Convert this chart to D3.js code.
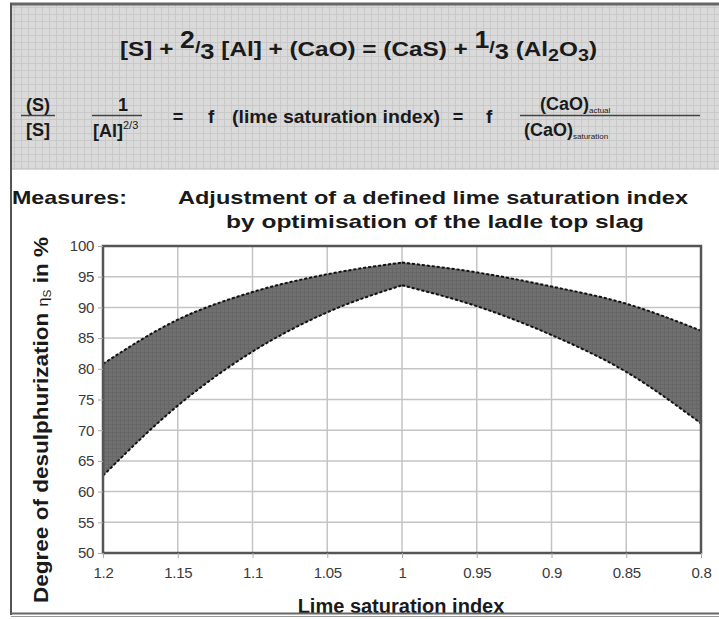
<html>
  <head>
    <script src="https://cdn.jsdelivr.net/npm/d3@7"></script>
    <style>
      body { margin: 0; background: #fff; }
      text { font-family: "Liberation Sans", Arial, sans-serif; }
    </style>
  </head>

  <body>
    <div id="container"></div>
  </body>
  <script>
    // values
    const limeIndex = [1.2, 1.15, 1.1, 1.05, 1, 0.95, 0.9, 0.85, 0.8];
    const upperBound = [80.8, 88.0, 92.5, 95.4, 97.3, 95.7, 93.4, 90.6, 86.2];
    const lowerBound = [62.6, 74.0, 82.8, 89.2, 93.6, 90.2, 85.5, 79.5, 71.1];
    const xTicks = [1.2, 1.15, 1.1, 1.05, 1, 0.95, 0.9, 0.85, 0.8];
    const xTickLabels = ["1.2", "1.15", "1.1", "1.05", "1", "0.95", "0.9", "0.85", "0.8"];
    const yTicks = [50, 55, 60, 65, 70, 75, 80, 85, 90, 95, 100];

    function drawSVG() {
      const W = 719, H = 619;
      const left = 103, right = 701, top = 246, bottom = 553;

      const svg = d3.create("svg").attr("width", W).attr("height", H);

      // header box with grid texture
      const defs = svg.append("defs");
      const pat = defs.append("pattern")
        .attr("id", "grid").attr("width", 7).attr("height", 7)
        .attr("patternUnits", "userSpaceOnUse");
      pat.append("rect").attr("width", 7).attr("height", 7).attr("fill", "#dadada");
      pat.append("path").attr("d", "M0,0.5H7M0.5,0V7")
        .attr("stroke", "#c9c9c9").attr("stroke-width", 1);
      const pat2 = defs.append("pattern")
        .attr("id", "band").attr("width", 4).attr("height", 4)
        .attr("patternUnits", "userSpaceOnUse");
      pat2.append("rect").attr("width", 4).attr("height", 4).attr("fill", "#707070");
      pat2.append("path").attr("d", "M0,0.5H4M0.5,0V4")
        .attr("stroke", "#676767").attr("stroke-width", 1);

      svg.append("rect").attr("x", 11).attr("y", 4).attr("width", W - 11).attr("height", 166)
        .attr("fill", "url(#grid)");

      // formula line 1
      const f1 = svg.append("text").attr("x", 120).attr("y", 56)
        .attr("font-size", 21).attr("font-weight", "bold").attr("fill", "#1a1a1a")
        .attr("textLength", 477).attr("lengthAdjust", "spacingAndGlyphs");
      f1.append("tspan").text("[S] + ");
      f1.append("tspan").attr("dy", -8).attr("font-size", 23).text("2");
      f1.append("tspan").attr("dy", 5).attr("font-size", 17).text("/");
      f1.append("tspan").attr("dy", 6).attr("font-size", 22).text("3");
      f1.append("tspan").attr("dy", -3).text(" [Al] + (CaO) = (CaS) + ");
      f1.append("tspan").attr("dy", -8).attr("font-size", 23).text("1");
      f1.append("tspan").attr("dy", 5).attr("font-size", 17).text("/");
      f1.append("tspan").attr("dy", 6).attr("font-size", 22).text("3");
      f1.append("tspan").attr("dy", -3).text(" (Al");
      f1.append("tspan").attr("dy", 5).attr("font-size", 17).text("2");
      f1.append("tspan").attr("dy", -5).text("O");
      f1.append("tspan").attr("dy", 5).attr("font-size", 17).text("3");
      f1.append("tspan").attr("dy", -5).text(")");

      // formula line 2
      const g2 = svg.append("g").attr("font-weight", "bold").attr("fill", "#1a1a1a")
        .attr("font-size", 18);
      const bar = (x0, x1) => {
        g2.append("line").attr("x1", x0).attr("x2", x1).attr("y1", 115.5).attr("y2", 115.5)
          .attr("stroke", "#444").attr("stroke-width", 1.5);
      };
      bar(21, 55);
      g2.append("text").attr("x", 38).attr("y", 111).attr("text-anchor", "middle").text("(S)");
      g2.append("text").attr("x", 38).attr("y", 136).attr("text-anchor", "middle").text("[S]");
      bar(92, 142);
      g2.append("text").attr("x", 123).attr("y", 111).attr("text-anchor", "middle").text("1");
      const al = g2.append("text").attr("x", 93).attr("y", 137);
      al.append("tspan").text("[Al]");
      al.append("tspan").attr("dy", -8).attr("font-size", 11).attr("font-weight", "normal").text("2/3");
      g2.append("text").attr("x", 178).attr("y", 123).attr("text-anchor", "middle").text("=");
      g2.append("text").attr("x", 208).attr("y", 123).attr("font-size", 19).text("f");
      g2.append("text").attr("x", 232).attr("y", 123).attr("font-size", 19)
        .attr("textLength", 208).attr("lengthAdjust", "spacingAndGlyphs").text("(lime saturation index)");
      g2.append("text").attr("x", 458).attr("y", 123).attr("text-anchor", "middle").text("=");
      g2.append("text").attr("x", 486).attr("y", 123).attr("font-size", 19).text("f");
      bar(520, 700);
      const num = g2.append("text").attr("x", 540).attr("y", 110);
      num.append("tspan").text("(CaO)");
      num.append("tspan").attr("dy", 3).attr("font-size", 8).attr("font-weight", "normal").text("actual");
      const den = g2.append("text").attr("x", 524).attr("y", 136);
      den.append("tspan").text("(CaO)");
      den.append("tspan").attr("dy", 3).attr("font-size", 8).attr("font-weight", "normal").text("saturation");

      // titles
      svg.append("text").attr("x", 12).attr("y", 204).attr("font-size", 19)
        .attr("font-weight", "bold").attr("fill", "#1a1a1a")
        .attr("textLength", 115).attr("lengthAdjust", "spacingAndGlyphs").text("Measures:");
      svg.append("text").attr("x", 178).attr("y", 204).attr("font-size", 19)
        .attr("font-weight", "bold").attr("fill", "#1a1a1a")
        .attr("textLength", 510).attr("lengthAdjust", "spacingAndGlyphs")
        .text("Adjustment of a defined lime saturation index");
      svg.append("text").attr("x", 226).attr("y", 228).attr("font-size", 19)
        .attr("font-weight", "bold").attr("fill", "#1a1a1a")
        .attr("textLength", 418).attr("lengthAdjust", "spacingAndGlyphs")
        .text("by optimisation of the ladle top slag");

      // scales
      const x = d3.scaleLinear().domain([1.2, 0.8]).range([left, right]);
      const y = d3.scaleLinear().domain([50, 100]).range([bottom, top]);

      // grid
      const grid = svg.append("g").attr("stroke", "#c4c4c4").attr("stroke-width", 1.5);
      grid.selectAll(".vg").data(xTicks.slice(1, -1)).join("line")
        .attr("x1", d => x(d)).attr("x2", d => x(d)).attr("y1", top).attr("y2", bottom);
      grid.selectAll(".hg").data(yTicks.slice(1, -1)).join("line")
        .attr("x1", left).attr("x2", right).attr("y1", d => y(d)).attr("y2", d => y(d));

      // band, drawn in two halves so the peak at 1 stays sharp
      const pts = limeIndex.map((v, i) => ({ x: v, hi: upperBound[i], lo: lowerBound[i] }));
      const halves = [pts.slice(0, 5), pts.slice(4)];
      const area = d3.area().x(d => x(d.x)).y0(d => y(d.lo)).y1(d => y(d.hi))
        .curve(d3.curveMonotoneX);
      const line = d3.line().x(d => x(d.x)).curve(d3.curveMonotoneX);
      halves.forEach(h => {
        svg.append("path").attr("d", area(h)).attr("fill", "url(#band)")
          .attr("stroke", "#707070").attr("stroke-width", 0.8);
      });
      halves.forEach(h => {
        svg.append("path").attr("d", line.y(d => y(d.hi))(h)).attr("fill", "none")
          .attr("stroke", "#111").attr("stroke-width", 2).attr("stroke-dasharray", "3,2");
        svg.append("path").attr("d", line.y(d => y(d.lo))(h)).attr("fill", "none")
          .attr("stroke", "#111").attr("stroke-width", 2).attr("stroke-dasharray", "3,2");
      });

      // frame
      svg.append("rect").attr("x", left).attr("y", top)
        .attr("width", right - left).attr("height", bottom - top)
        .attr("fill", "none").attr("stroke", "#555").attr("stroke-width", 2.5);

      // axes
      const xAxis = d3.axisBottom(x).tickValues(xTicks).tickSize(5).tickPadding(9)
        .tickFormat((d, i) => xTickLabels[i]);
      const xg = svg.append("g").attr("transform", `translate(0,${bottom})`).call(xAxis);
      const yAxis = d3.axisLeft(y).tickValues(yTicks).tickSize(5).tickPadding(4)
        .tickFormat(d => String(d));
      const yg = svg.append("g").attr("transform", `translate(${left},0)`).call(yAxis);
      [xg, yg].forEach(g => {
        g.select(".domain").remove();
        g.selectAll(".tick line").attr("stroke", "#aaa");
        g.selectAll(".tick text").attr("font-size", 15).attr("fill", "#3a3a3a")
          .attr("font-family", "Liberation Sans, Arial, sans-serif").attr("letter-spacing", -0.3);
      });

      // axis titles
      const yl = svg.append("text")
        .attr("transform", `translate(48,420) rotate(-90)`)
        .attr("text-anchor", "middle").attr("font-size", 21).attr("font-weight", "bold")
        .attr("fill", "#1a1a1a")
        .attr("textLength", 366).attr("lengthAdjust", "spacingAndGlyphs");
      yl.append("tspan").text("Degree of desulphurization ");
      yl.append("tspan").attr("font-weight", "normal").attr("font-size", 15).text("η");
      yl.append("tspan").attr("font-weight", "normal").attr("font-size", 11).attr("dy", 3).text("S");
      yl.append("tspan").attr("dy", -3).text(" in %");
      svg.append("text").attr("x", 401).attr("y", 613).attr("text-anchor", "middle")
        .attr("font-size", 20).attr("font-weight", "bold").attr("fill", "#1a1a1a")
        .text("Lime saturation index");

      // outer border lines
      svg.append("path").attr("d", `M10,4H${W}`).attr("stroke", "#666").attr("stroke-width", 3);
      svg.append("path").attr("d", "M11,3V615").attr("stroke", "#555").attr("stroke-width", 2);
      svg.append("path").attr("d", `M11,613.5H${W}`).attr("stroke", "#666").attr("stroke-width", 2);
      svg.append("path").attr("d", `M11,616.5H${W}`).attr("stroke", "#999").attr("stroke-width", 1);

      document.getElementById("container").append(svg.node());
    }
    drawSVG();
  </script>
</html>
